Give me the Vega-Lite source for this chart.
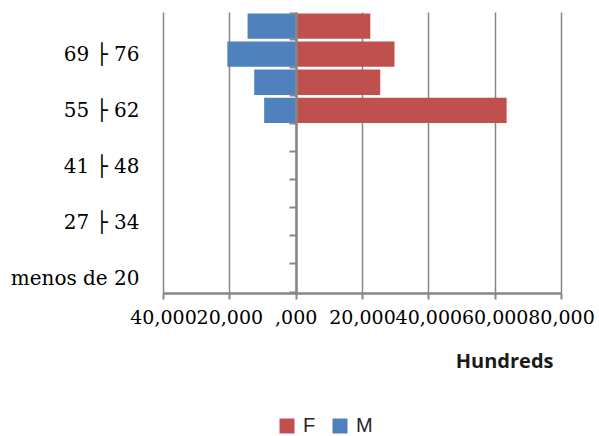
{
  "$schema": "https://vega.github.io/schema/vega-lite/v6.json",
  "autosize": {"type": "none"},
  "width": 398,
  "height": 281,
  "padding": {"left": 163, "top": 12, "right": 38, "bottom": 143},
  "background": "white",
  "data": {
    "values": [
      {"age": "76 ├ 83", "sex": "F", "value": 22500},
      {"age": "76 ├ 83", "sex": "M", "value": -14500},
      {"age": "69 ├ 76", "sex": "F", "value": 29800},
      {"age": "69 ├ 76", "sex": "M", "value": -20600},
      {"age": "62 ├ 69", "sex": "F", "value": 25500},
      {"age": "62 ├ 69", "sex": "M", "value": -12500},
      {"age": "55 ├ 62", "sex": "F", "value": 63600},
      {"age": "55 ├ 62", "sex": "M", "value": -9500},
      {"age": "48 ├ 55", "sex": "F", "value": 0},
      {"age": "48 ├ 55", "sex": "M", "value": 0},
      {"age": "41 ├ 48", "sex": "F", "value": 0},
      {"age": "41 ├ 48", "sex": "M", "value": 0},
      {"age": "34 ├ 41", "sex": "F", "value": 0},
      {"age": "34 ├ 41", "sex": "M", "value": 0},
      {"age": "27 ├ 34", "sex": "F", "value": 0},
      {"age": "27 ├ 34", "sex": "M", "value": 0},
      {"age": "20 ├ 27", "sex": "F", "value": 0},
      {"age": "20 ├ 27", "sex": "M", "value": 0},
      {"age": "menos de 20", "sex": "F", "value": 0},
      {"age": "menos de 20", "sex": "M", "value": 0}
    ]
  },
  "mark": {"type": "bar", "stroke": null},
  "encoding": {
    "y": {
      "field": "age",
      "type": "nominal",
      "sort": ["76 ├ 83", "69 ├ 76", "62 ├ 69", "55 ├ 62", "48 ├ 55", "41 ├ 48", "34 ├ 41", "27 ├ 34", "20 ├ 27", "menos de 20"],
      "scale": {"paddingInner": 0.1, "paddingOuter": 0.05},
      "axis": {
        "title": null,
        "orient": "left",
        "offset": -133,
        "zindex": 1,
        "domainColor": "#868686",
        "domainWidth": 2.5,
        "tickBand": "extent",
        "tickColor": "#868686",
        "tickWidth": 2,
        "tickSize": 7,
        "labelPadding": 150,
        "labelFont": "DejaVu Serif",
        "labelFontSize": 20,
        "labelColor": "#000000",
        "labelExpr": "indexof(['menos de 20','27 ├ 34','41 ├ 48','55 ├ 62','69 ├ 76'], datum.value) >= 0 ? datum.value : ''"
      }
    },
    "x": {
      "field": "value",
      "type": "quantitative",
      "stack": null,
      "scale": {"domain": [-40000, 80000], "nice": false},
      "axis": {
        "values": [-40000, -20000, 0, 20000, 40000, 60000, 80000],
        "labelExpr": "datum.value == 0 ? ',000' : format(abs(datum.value), ',')",
        "labelFont": "DejaVu Serif",
        "labelFontSize": 19,
        "labelColor": "#000000",
        "labelPadding": 9,
        "labelOverlap": false,
        "labelFlush": false,
        "grid": true,
        "gridColor": "#868686",
        "gridWidth": 1.5,
        "domainColor": "#868686",
        "domainWidth": 2.5,
        "tickColor": "#868686",
        "tickWidth": 2,
        "tickSize": 6,
        "title": "Hundreds",
        "titleFont": "Open Sans",
        "titleFontSize": 20,
        "titleFontWeight": "bold",
        "titleColor": "#1a1a1a",
        "titleAnchor": "end",
        "titleAlign": "right",
        "titleBaseline": "alphabetic",
        "titleX": 390,
        "titleY": 74
      }
    },
    "color": {
      "field": "sex",
      "type": "nominal",
      "scale": {"domain": ["F", "M"], "range": ["#C0504D", "#4F81BD"]},
      "legend": {
        "title": null,
        "orient": "none",
        "direction": "horizontal",
        "legendX": 114,
        "legendY": 404,
        "padding": 0,
        "symbolType": "square",
        "symbolSize": 225,
        "symbolStrokeWidth": 0,
        "symbolOpacity": 1,
        "labelFont": "Liberation Sans",
        "labelFontSize": 20,
        "labelColor": "#262626",
        "labelOffset": 6,
        "columnPadding": 14
      }
    }
  },
  "config": {"view": {"stroke": null}}
}
